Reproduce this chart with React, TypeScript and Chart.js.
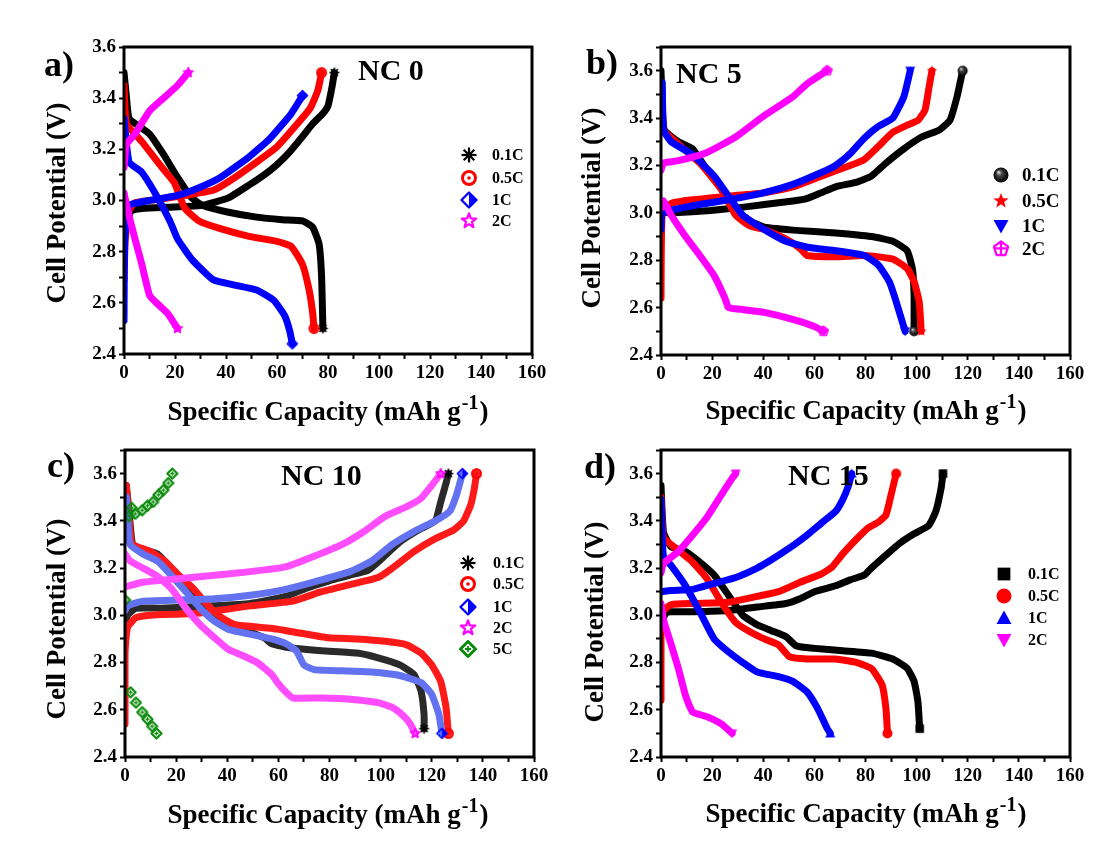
import React, { useEffect, useRef } from 'react';
import { Chart, registerables } from 'chart.js';

Chart.register(...registerables);

type P = [number, number][];

const FONT = '"Liberation Serif", "Times New Roman", Times, serif';

// ---- axes ----
const X_MIN = 0;
const X_MAX = 160;
const X_STEP = 10;
const X_LABEL_EVERY = 20;
const Y_MIN = 2.4;
const Y_STEP = 0.1;
const Y_MAX_A = 3.6;
const Y_MAX_BCD = 3.7;

// ---- text ----
const RATE_LABELS = ['0.1C', '0.5C', '1C', '2C', '5C'];
const SAMPLE_NAMES = ['NC 0', 'NC 5', 'NC 10', 'NC 15'];
const PANEL_LETTERS = ['a)', 'b)', 'c)', 'd)'];
const X_TITLE = 'Specific Capacity (mAh g';
const X_TITLE_SUP = '-1';
const Y_TITLE = 'Cell Potential (V)';

// ---- data: [capacity mAh/g, potential V] ----
// NC 0
const NC0_01C_CHARGE: P = [[0, 2.85], [1, 2.92], [3, 2.96], [8, 2.97], [20, 2.975], [30, 2.98], [36, 2.995], [41, 3.01], [49, 3.06], [55, 3.1], [60, 3.14], [65, 3.19], [70, 3.25], [74, 3.3], [78, 3.34], [80, 3.37], [81.5, 3.44], [82.5, 3.5]];
const NC0_01C_DISCHARGE: P = [[0, 3.5], [0.8, 3.42], [2, 3.32], [6, 3.29], [10, 3.26], [15.5, 3.18], [21, 3.09], [26.6, 3.01], [31, 2.98], [40.5, 2.955], [52, 2.935], [62, 2.925], [70, 2.92], [74, 2.895], [76.5, 2.83], [77.5, 2.7], [78, 2.5]];
const NC0_05C_CHARGE: P = [[0, 2.69], [0.5, 2.85], [2, 2.96], [4, 2.99], [10, 3.0], [24, 3.02], [35, 3.04], [42, 3.08], [52, 3.15], [60, 3.21], [68, 3.3], [73, 3.36], [76, 3.43], [77.5, 3.5]];
const NC0_05C_DISCHARGE: P = [[0, 3.45], [1, 3.3], [7, 3.23], [14, 3.14], [19.7, 3.07], [23.8, 2.97], [29.4, 2.92], [37.8, 2.89], [49, 2.86], [60, 2.84], [65.6, 2.82], [70, 2.75], [72.6, 2.65], [74, 2.56], [74.5, 2.5]];
const NC0_1C_CHARGE: P = [[0, 2.53], [0.3, 2.85], [2, 2.98], [10, 3.0], [21, 3.02], [29.4, 3.05], [37.8, 3.09], [49, 3.17], [57, 3.24], [65.6, 3.34], [70, 3.41]];
const NC0_1C_DISCHARGE: P = [[0, 3.32], [2, 3.15], [7, 3.11], [12.7, 3.02], [18, 2.92], [21, 2.85], [26.6, 2.77], [35, 2.69], [43, 2.67], [52, 2.65], [58.7, 2.61], [63, 2.55], [65, 2.49], [66, 2.44]];
const NC0_2C_CHARGE: P = [[0, 3.13], [1, 3.22], [4.3, 3.26], [10, 3.35], [15.5, 3.4], [21, 3.45], [25.2, 3.5]];
const NC0_2C_DISCHARGE: P = [[0, 3.03], [1.5, 2.96], [4.3, 2.85], [7, 2.75], [10, 2.63], [12.7, 2.6], [17, 2.56], [21, 2.5]];
// NC 5
const NC5_01C_CHARGE: P = [[0, 2.95], [0.5, 3.0], [5, 3.0], [19.4, 3.01], [29, 3.02], [40.4, 3.035], [51.6, 3.05], [57, 3.06], [62.7, 3.085], [68.3, 3.11], [76.7, 3.13], [82.3, 3.155], [88, 3.21], [95, 3.27], [101.9, 3.32], [108.9, 3.35], [113, 3.39], [115.8, 3.49], [118, 3.6]];
const NC5_01C_DISCHARGE: P = [[0, 3.6], [0.5, 3.45], [1.3, 3.35], [6.8, 3.3], [12.4, 3.27], [18, 3.18], [23.6, 3.1], [29.2, 3.015], [34.8, 2.966], [40.4, 2.94], [54.4, 2.925], [68.3, 2.915], [82.3, 2.9], [90.7, 2.88], [96.3, 2.84], [98.4, 2.76], [99, 2.65], [99, 2.5]];
const NC5_05C_CHARGE: P = [[0, 2.64], [0.5, 3.0], [4, 3.04], [12.4, 3.055], [26.4, 3.07], [40.4, 3.085], [51.6, 3.11], [62.7, 3.155], [74, 3.2], [79.5, 3.225], [85, 3.28], [90.7, 3.34], [96.3, 3.37], [100.5, 3.39], [103.3, 3.435], [104.7, 3.52], [106, 3.6]];
const NC5_05C_DISCHARGE: P = [[0, 3.52], [1, 3.35], [6.8, 3.29], [15.2, 3.21], [23.6, 3.1], [29.2, 2.99], [34.8, 2.945], [40.4, 2.93], [48.8, 2.89], [54.4, 2.85], [57.2, 2.82], [68.3, 2.815], [79.5, 2.82], [90.7, 2.805], [96.3, 2.765], [99, 2.71], [101, 2.625], [101.8, 2.5]];
const NC5_1C_CHARGE: P = [[0, 2.93], [0.5, 3.0], [12.4, 3.03], [26.4, 3.055], [40.4, 3.085], [51.6, 3.12], [62.7, 3.17], [68.3, 3.2], [74, 3.25], [79.5, 3.315], [85, 3.365], [90.7, 3.4], [95, 3.49], [97.5, 3.6]];
const NC5_1C_DISCHARGE: P = [[0.5, 3.55], [1, 3.35], [4, 3.3], [12.4, 3.245], [20.8, 3.155], [26.4, 3.07], [32, 2.99], [40.4, 2.93], [48.8, 2.88], [57.2, 2.855], [68.3, 2.84], [79.5, 2.82], [85, 2.78], [89.3, 2.71], [92, 2.625], [95.5, 2.5]];
const NC5_2C_CHARGE: P = [[0, 3.18], [1, 3.21], [6.8, 3.22], [18, 3.255], [29.2, 3.32], [40.4, 3.41], [51.6, 3.49], [57.2, 3.545], [65, 3.6]];
const NC5_2C_DISCHARGE: P = [[0, 3.02], [1, 3.05], [4, 2.99], [9.6, 2.9], [15.2, 2.82], [20.8, 2.735], [25, 2.64], [26.4, 2.6], [29.2, 2.595], [40.4, 2.58], [51.6, 2.55], [60, 2.52], [63.5, 2.5]];
// NC 10
const NC10_01C_CHARGE: P = [[0, 2.95], [1, 3.0], [4.3, 3.03], [14, 3.03], [35, 3.04], [49, 3.05], [62.9, 3.08], [71, 3.115], [79.6, 3.145], [88, 3.17], [95, 3.19], [100.5, 3.24], [107.5, 3.31], [114.6, 3.36], [121.4, 3.4], [123.5, 3.48], [125.6, 3.56], [126.5, 3.6]];
const NC10_01C_DISCHARGE: P = [[0.5, 3.55], [1.5, 3.45], [3, 3.3], [7, 3.28], [12.7, 3.26], [18, 3.2], [23.8, 3.13], [29.4, 3.06], [35, 3.0], [40.5, 2.96], [46, 2.94], [54.5, 2.905], [57.3, 2.88], [62.9, 2.865], [76.8, 2.85], [90.7, 2.84], [99, 2.82], [107.5, 2.79], [113, 2.75], [115.8, 2.68], [117, 2.58], [117, 2.52]];
const NC10_05C_CHARGE: P = [[0, 2.54], [0, 2.84], [1, 2.95], [4.3, 2.99], [10, 3.0], [29.4, 3.01], [49, 3.04], [65.6, 3.06], [76.8, 3.1], [88, 3.13], [99, 3.16], [104.6, 3.2], [113, 3.27], [121.4, 3.325], [128.4, 3.36], [132.5, 3.4], [135.3, 3.47], [136.7, 3.54], [137.5, 3.6]];
const NC10_05C_DISCHARGE: P = [[0.5, 3.55], [2, 3.35], [3, 3.3], [10, 3.27], [15.5, 3.23], [21, 3.17], [26.6, 3.115], [32.2, 3.045], [37.8, 2.99], [43.3, 2.96], [57.3, 2.945], [68.4, 2.925], [79.6, 2.905], [90.7, 2.9], [101.9, 2.89], [110.2, 2.875], [115.8, 2.84], [120, 2.79], [123.5, 2.72], [125.6, 2.61], [126.5, 2.5]];
const NC10_1C_CHARGE: P = [[0, 3.02], [1, 3.04], [7, 3.06], [21, 3.065], [35, 3.07], [49, 3.085], [62.9, 3.11], [76.8, 3.15], [88, 3.185], [96.5, 3.23], [104.6, 3.3], [113, 3.355], [121.4, 3.4], [127, 3.44], [129.7, 3.51], [132, 3.6]];
const NC10_1C_DISCHARGE: P = [[0.5, 3.5], [1, 3.42], [2, 3.3], [7, 3.26], [12.7, 3.23], [18, 3.17], [23.8, 3.1], [29.4, 3.03], [35, 2.975], [40.5, 2.94], [49, 2.92], [57.3, 2.9], [62.9, 2.88], [67, 2.85], [70, 2.79], [74, 2.77], [85, 2.765], [96.5, 2.76], [107.5, 2.745], [115.8, 2.715], [120, 2.665], [122.8, 2.58], [124, 2.5]];
const NC10_2C_CHARGE: P = [[0, 3.12], [7, 3.14], [21, 3.155], [35, 3.17], [49, 3.185], [62.9, 3.205], [74, 3.25], [85, 3.3], [93.5, 3.355], [101.9, 3.42], [110.2, 3.46], [115.8, 3.495], [120, 3.55], [123.5, 3.6]];
const NC10_2C_DISCHARGE: P = [[0, 3.26], [2, 3.23], [7, 3.2], [12.7, 3.165], [18, 3.115], [23.8, 3.03], [29.4, 2.96], [35, 2.905], [40.5, 2.855], [46, 2.83], [51.7, 2.8], [57.3, 2.75], [60, 2.71], [62.9, 2.675], [65.6, 2.65], [76.8, 2.65], [88, 2.645], [99, 2.63], [104.6, 2.61], [108.8, 2.575], [111.6, 2.54], [113.5, 2.5]];
const NC10_5C_CHARGE: P = [[0, 3.065], [1.5, 3.42], [2.6, 3.455], [4, 3.43], [6.7, 3.445], [8.8, 3.464], [11, 3.48], [13.1, 3.51], [15, 3.53], [16.9, 3.56], [18.5, 3.6]];
const NC10_5C_DISCHARGE: P = [[2.2, 2.674], [4.3, 2.63], [6.7, 2.59], [8.8, 2.56], [10.6, 2.53], [12.3, 2.5]];
// NC 15
const NC15_01C_CHARGE: P = [[0, 2.93], [0.5, 2.98], [2, 3.01], [4, 3.015], [12.4, 3.015], [26.4, 3.02], [37.6, 3.035], [48.8, 3.05], [54.4, 3.07], [60, 3.1], [68.3, 3.125], [74, 3.15], [79.5, 3.17], [82.3, 3.2], [88, 3.255], [93.4, 3.305], [99, 3.345], [104.7, 3.38], [107.5, 3.44], [109.6, 3.54], [110.3, 3.6]];
const NC15_01C_DISCHARGE: P = [[0, 3.55], [1, 3.35], [4, 3.29], [9.6, 3.27], [15.2, 3.225], [20.8, 3.17], [26.4, 3.085], [32, 3.0], [37.6, 2.96], [43.2, 2.935], [48.8, 2.91], [53, 2.87], [60, 2.86], [71.1, 2.85], [82.3, 2.84], [90.7, 2.815], [96.3, 2.775], [99, 2.72], [100.5, 2.635], [101.2, 2.52]];
const NC15_05C_CHARGE: P = [[0, 2.64], [0, 2.95], [1, 3.02], [4, 3.045], [12.4, 3.05], [26.4, 3.055], [37.6, 3.08], [46, 3.1], [54.4, 3.14], [62.7, 3.175], [67, 3.205], [71.1, 3.26], [76.7, 3.325], [81, 3.37], [85.1, 3.395], [88, 3.425], [90, 3.51], [92, 3.6]];
const NC15_05C_DISCHARGE: P = [[0, 3.5], [1, 3.33], [6.8, 3.275], [12.4, 3.225], [18, 3.155], [23.6, 3.055], [29.2, 2.97], [34.8, 2.93], [40.4, 2.9], [46, 2.875], [50.2, 2.825], [57.2, 2.815], [68.3, 2.815], [76.7, 2.8], [82.3, 2.775], [86.5, 2.705], [88, 2.605], [88.6, 2.5]];
const NC15_1C_CHARGE: P = [[0, 3.1], [4, 3.105], [12.4, 3.11], [20.8, 3.135], [29.2, 3.16], [37.6, 3.2], [43.2, 3.235], [51.6, 3.295], [57.2, 3.34], [62.7, 3.39], [68.3, 3.44], [71.1, 3.49], [73.2, 3.545], [74.6, 3.6]];
const NC15_1C_DISCHARGE: P = [[0, 3.49], [0.5, 3.33], [1, 3.25], [4, 3.21], [9.6, 3.125], [15.2, 3.015], [20.8, 2.9], [26.4, 2.845], [32, 2.8], [37.6, 2.76], [46, 2.74], [51.6, 2.72], [57.2, 2.675], [61.3, 2.605], [64.8, 2.525], [66.2, 2.5]];
const NC15_2C_CHARGE: P = [[0, 3.18], [1, 3.22], [6.8, 3.27], [12.4, 3.34], [18, 3.415], [23.6, 3.51], [27.8, 3.58], [29.2, 3.6]];
const NC15_2C_DISCHARGE: P = [[0, 3.05], [1, 2.98], [4, 2.875], [6.8, 2.775], [9.6, 2.66], [11, 2.62], [12.4, 2.59], [18, 2.57], [23.6, 2.54], [27.8, 2.5]];

// ---- styling / layout ----
type Series = { label: string; color: string; band?: string; marker: string; curves: P[]; scatter?: boolean };
type Panel = {
  key: string; left: number; top: number; w: number; h: number;
  plot: { l: number; t: number; r: number; b: number }; yMax: number;
  letter: string; letterX: number; letterY: number;
  nc: string; ncX: number; ncY: number;
  yTitleX: number; yTitleY: number; xTitleX: number; xTitleY: number;
  legendMX: number; legendTX: number; legendYs: number[]; legendFont: number;
  series: Series[];
};

const BLACK = '#000000';
const RED = '#ff0000';
const BLUE = '#0000ff';
const MAGENTA = '#ff00ff';
const GREEN = '#0a8a0a';

const PANELS: Panel[] = [
  {
    key: 'a', left: 0, top: 0, w: 554, h: 427, plot: { l: 124, t: 47, r: 532, b: 354 }, yMax: Y_MAX_A,
    letter: PANEL_LETTERS[0], letterX: 44, letterY: 76, nc: SAMPLE_NAMES[0], ncX: 358, ncY: 80,
    yTitleX: 58, yTitleY: 203, xTitleX: 328, xTitleY: 420,
    legendMX: 469, legendTX: 492, legendYs: [155, 178, 200, 221], legendFont: 16,
    series: [
      { label: RATE_LABELS[0], color: BLACK, marker: 'asterisk', curves: [NC0_01C_CHARGE, NC0_01C_DISCHARGE] },
      { label: RATE_LABELS[1], color: RED, marker: 'bullseye', curves: [NC0_05C_CHARGE, NC0_05C_DISCHARGE] },
      { label: RATE_LABELS[2], color: BLUE, marker: 'halfDiamond', curves: [NC0_1C_CHARGE, NC0_1C_DISCHARGE] },
      { label: RATE_LABELS[3], color: MAGENTA, marker: 'starHollow', curves: [NC0_2C_CHARGE, NC0_2C_DISCHARGE] },
    ],
  },
  {
    key: 'b', left: 554, top: 0, w: 554, h: 427, plot: { l: 661, t: 47, r: 1070, b: 355 }, yMax: Y_MAX_BCD,
    letter: PANEL_LETTERS[1], letterX: 586, letterY: 74, nc: SAMPLE_NAMES[1], ncX: 676, ncY: 83,
    yTitleX: 593, yTitleY: 208, xTitleX: 866, xTitleY: 419,
    legendMX: 1001, legendTX: 1022, legendYs: [175, 201, 226, 249], legendFont: 19,
    series: [
      { label: RATE_LABELS[0], color: BLACK, marker: 'sphere', curves: [NC5_01C_CHARGE, NC5_01C_DISCHARGE] },
      { label: RATE_LABELS[1], color: RED, marker: 'starFilled', curves: [NC5_05C_CHARGE, NC5_05C_DISCHARGE] },
      { label: RATE_LABELS[2], color: BLUE, marker: 'triDown', curves: [NC5_1C_CHARGE, NC5_1C_DISCHARGE] },
      { label: RATE_LABELS[3], color: MAGENTA, marker: 'pentaCross', curves: [NC5_2C_CHARGE, NC5_2C_DISCHARGE] },
    ],
  },
  {
    key: 'c', left: 0, top: 427, w: 554, h: 428, plot: { l: 125, t: 450, r: 534, b: 757 }, yMax: Y_MAX_BCD,
    letter: PANEL_LETTERS[2], letterX: 47, letterY: 477, nc: SAMPLE_NAMES[2], ncX: 281, ncY: 485,
    yTitleX: 58, yTitleY: 619, xTitleX: 328, xTitleY: 823,
    legendMX: 468, legendTX: 493, legendYs: [563, 584, 607, 628, 649], legendFont: 16,
    series: [
      { label: RATE_LABELS[0], color: BLACK, band: '#2a2a2a', marker: 'asterisk', curves: [NC10_01C_CHARGE, NC10_01C_DISCHARGE] },
      { label: RATE_LABELS[1], color: RED, band: '#ff1a1a', marker: 'bullseye', curves: [NC10_05C_CHARGE, NC10_05C_DISCHARGE] },
      { label: RATE_LABELS[2], color: BLUE, band: '#6272f0', marker: 'halfDiamond', curves: [NC10_1C_CHARGE, NC10_1C_DISCHARGE] },
      { label: RATE_LABELS[3], color: MAGENTA, band: '#ff4dff', marker: 'starHollow', curves: [NC10_2C_CHARGE, NC10_2C_DISCHARGE] },
      { label: RATE_LABELS[4], color: GREEN, marker: 'diamondCross', curves: [NC10_5C_CHARGE, NC10_5C_DISCHARGE], scatter: true },
    ],
  },
  {
    key: 'd', left: 554, top: 427, w: 554, h: 428, plot: { l: 661, t: 450, r: 1070, b: 757 }, yMax: Y_MAX_BCD,
    letter: PANEL_LETTERS[3], letterX: 584, letterY: 478, nc: SAMPLE_NAMES[3], ncX: 788, ncY: 485,
    yTitleX: 596, yTitleY: 622, xTitleX: 866, xTitleY: 822,
    legendMX: 1004, legendTX: 1028, legendYs: [574, 596, 618, 640], legendFont: 16,
    series: [
      { label: RATE_LABELS[0], color: BLACK, marker: 'square', curves: [NC15_01C_CHARGE, NC15_01C_DISCHARGE] },
      { label: RATE_LABELS[1], color: RED, marker: 'circle', curves: [NC15_05C_CHARGE, NC15_05C_DISCHARGE] },
      { label: RATE_LABELS[2], color: BLUE, marker: 'triUp', curves: [NC15_1C_CHARGE, NC15_1C_DISCHARGE] },
      { label: RATE_LABELS[3], color: MAGENTA, marker: 'triDown', curves: [NC15_2C_CHARGE, NC15_2C_DISCHARGE] },
    ],
  },
];

function starPath(g: CanvasRenderingContext2D, c: number, r: number) {
  g.beginPath();
  for (let i = 0; i < 10; i++) {
    const rr = i % 2 === 0 ? r : r * 0.42;
    const a = -Math.PI / 2 + (i * Math.PI) / 5;
    const x = c + rr * Math.cos(a);
    const y = c + rr * Math.sin(a);
    if (i === 0) g.moveTo(x, y); else g.lineTo(x, y);
  }
  g.closePath();
}

function makeMarker(type: string, color: string, s: number): HTMLCanvasElement {
  const cv = document.createElement('canvas');
  cv.width = s; cv.height = s;
  const g = cv.getContext('2d') as CanvasRenderingContext2D;
  const c = s / 2;
  const r = s / 2 - 1.5;
  g.strokeStyle = color; g.fillStyle = color;
  g.lineWidth = Math.max(1.6, s / 8);
  g.lineJoin = 'round';
  switch (type) {
    case 'asterisk':
      for (const deg of [0, 45, 90, 135]) {
        const a = (deg * Math.PI) / 180;
        g.beginPath();
        g.moveTo(c + r * Math.cos(a), c + r * Math.sin(a));
        g.lineTo(c - r * Math.cos(a), c - r * Math.sin(a));
        g.stroke();
      }
      break;
    case 'bullseye':
      g.lineWidth = s / 6;
      g.beginPath(); g.arc(c, c, r - g.lineWidth / 2 + 0.5, 0, Math.PI * 2); g.stroke();
      g.beginPath(); g.arc(c, c, s / 10, 0, Math.PI * 2); g.fill();
      break;
    case 'halfDiamond':
      g.beginPath(); g.moveTo(c, c - r); g.lineTo(c + r, c); g.lineTo(c, c + r); g.lineTo(c - r, c); g.closePath(); g.stroke();
      g.beginPath(); g.moveTo(c, c - r); g.lineTo(c + r, c); g.lineTo(c, c + r); g.closePath(); g.fill();
      break;
    case 'starHollow':
      starPath(g, c, r); g.stroke();
      break;
    case 'starFilled':
      starPath(g, c, r + 0.5); g.fill();
      break;
    case 'sphere': {
      const gr = g.createRadialGradient(c - r * 0.35, c - r * 0.4, r * 0.05, c, c, r);
      gr.addColorStop(0, '#d8d8d8');
      gr.addColorStop(0.35, '#444');
      gr.addColorStop(1, '#000');
      g.fillStyle = gr;
      g.beginPath(); g.arc(c, c, r, 0, Math.PI * 2); g.fill();
      break;
    }
    case 'triDown':
      g.beginPath(); g.moveTo(c - r, c - r * 0.8); g.lineTo(c + r, c - r * 0.8); g.lineTo(c, c + r); g.closePath(); g.fill();
      break;
    case 'triUp':
      g.beginPath(); g.moveTo(c - r, c + r * 0.8); g.lineTo(c + r, c + r * 0.8); g.lineTo(c, c - r); g.closePath(); g.fill();
      break;
    case 'pentaCross': {
      g.beginPath();
      for (let i = 0; i < 5; i++) {
        const a = -Math.PI / 2 + (i * 2 * Math.PI) / 5;
        const x = c + r * Math.cos(a); const y = c + r * Math.sin(a);
        if (i === 0) g.moveTo(x, y); else g.lineTo(x, y);
      }
      g.closePath(); g.stroke();
      g.beginPath(); g.moveTo(c, c - r); g.lineTo(c, c + r * 0.8);
      g.moveTo(c - r * 0.95, c - r * 0.1); g.lineTo(c + r * 0.95, c - r * 0.1); g.stroke();
      break;
    }
    case 'diamondCross':
      g.lineWidth = s / 6;
      g.beginPath(); g.moveTo(c, c - r); g.lineTo(c + r, c); g.lineTo(c, c + r); g.lineTo(c - r, c); g.closePath(); g.stroke();
      g.lineWidth = s / 10;
      g.beginPath(); g.moveTo(c - r * 0.4, c); g.lineTo(c + r * 0.4, c); g.moveTo(c, c - r * 0.4); g.lineTo(c, c + r * 0.4); g.stroke();
      break;
    case 'square':
      g.fillRect(c - r * 0.85, c - r * 0.85, r * 1.7, r * 1.7);
      break;
    case 'circle':
    default:
      g.beginPath(); g.arc(c, c, r, 0, Math.PI * 2); g.fill();
      break;
  }
  return cv;
}

function decorPlugin(panel: Panel, legendMarkers: HTMLCanvasElement[]) {
  return {
    id: 'decor_' + panel.key,
    afterDraw(chart: any) {
      const ctx: CanvasRenderingContext2D = chart.ctx;
      const { left, top, right, bottom } = chart.chartArea;
      const ox = panel.left;
      const oy = panel.top;
      ctx.save();
      ctx.strokeStyle = '#000';
      ctx.lineWidth = 3;
      ctx.strokeRect(left, top, right - left, bottom - top);
      ctx.fillStyle = '#000';
      ctx.textAlign = 'left';
      ctx.textBaseline = 'alphabetic';
      ctx.font = `bold 36px ${FONT}`;
      ctx.fillText(panel.letter, panel.letterX - ox, panel.letterY - oy);
      ctx.font = `bold 30px ${FONT}`;
      ctx.fillText(panel.nc, panel.ncX - ox, panel.ncY - oy);

      ctx.save();
      ctx.translate(panel.yTitleX - ox, panel.yTitleY - oy);
      ctx.rotate(-Math.PI / 2);
      ctx.font = `bold 27px ${FONT}`;
      ctx.textAlign = 'center';
      ctx.textBaseline = 'middle';
      ctx.fillText(Y_TITLE, 0, 0);
      ctx.restore();

      ctx.font = `bold 27px ${FONT}`;
      const w1 = ctx.measureText(X_TITLE).width;
      const w3 = ctx.measureText(')').width;
      ctx.font = `bold 20px ${FONT}`;
      const w2 = ctx.measureText(X_TITLE_SUP).width;
      let x = panel.xTitleX - ox - (w1 + w2 + w3 + 2) / 2;
      const y = panel.xTitleY - oy;
      ctx.font = `bold 27px ${FONT}`;
      ctx.fillText(X_TITLE, x, y);
      x += w1 + 1;
      ctx.font = `bold 20px ${FONT}`;
      ctx.fillText(X_TITLE_SUP, x, y - 11);
      x += w2 + 1;
      ctx.font = `bold 27px ${FONT}`;
      ctx.fillText(')', x, y);

      panel.series.forEach((s, i) => {
        const yy = panel.legendYs[i] - oy;
        const m = legendMarkers[i];
        ctx.drawImage(m, panel.legendMX - ox - m.width / 2, yy - m.height / 2);
        ctx.font = `bold ${panel.legendFont}px ${FONT}`;
        ctx.textBaseline = 'middle';
        ctx.fillStyle = '#000';
        ctx.fillText(s.label, panel.legendTX - ox, yy + 1);
      });
      ctx.restore();
    },
  };
}

function buildConfig(panel: Panel): any {
  const ptMarkers = panel.series.map((s) => makeMarker(s.marker, s.color, 13));
  const lgMarkers = panel.series.map((s) => makeMarker(s.marker, s.color, 18));
  const datasets: any[] = [];
  panel.series.forEach((s, si) => {
    s.curves.forEach((curve) => {
      const n = curve.length;
      const data = curve.map(([x, y]) => ({ x, y }));
      if (s.scatter) {
        datasets.push({ data, showLine: false, pointStyle: ptMarkers[si], pointRadius: 6, order: -si });
      } else {
        datasets.push({
          data,
          showLine: true,
          borderColor: s.band || s.color,
          backgroundColor: s.color,
          borderWidth: 7,
          borderCapStyle: 'round',
          borderJoinStyle: 'round',
          tension: 0.15,
          pointStyle: ptMarkers[si],
          pointRadius: (ctx: any) => (ctx.dataIndex === n - 1 ? 6 : 0),
          pointHoverRadius: 0,
          order: -si,
        });
      }
    });
  });

  const plotL = panel.plot.l - panel.left;
  const plotR = panel.plot.r - panel.left;
  const plotT = panel.plot.t - panel.top;
  const plotB = panel.plot.b - panel.top;
  const tickFont = { family: FONT, size: 19, weight: 'bold' as const };

  return {
    type: 'scatter',
    data: { datasets },
    options: {
      animation: false,
      responsive: false,
      events: [],
      layout: { padding: { top: plotT, right: panel.w - plotR, left: 0, bottom: 0 } },
      plugins: { legend: { display: false }, tooltip: { enabled: false } },
      scales: {
        x: {
          type: 'linear', min: X_MIN, max: X_MAX,
          afterFit: (sc: any) => { sc.height = panel.h - plotB; },
          ticks: {
            stepSize: X_STEP, autoSkip: false, maxRotation: 0, minRotation: 0, maxTicksLimit: 100,
            color: '#000', font: tickFont, padding: 3,
            callback: (v: number) => (Math.round(v) % X_LABEL_EVERY === 0 ? String(Math.round(v)) : ''),
          },
          grid: { drawOnChartArea: false, drawTicks: true, tickLength: 5, tickColor: '#000', tickWidth: 2 },
          border: { display: false },
        },
        y: {
          type: 'linear', min: Y_MIN, max: panel.yMax,
          afterFit: (sc: any) => { sc.width = plotL; },
          ticks: {
            stepSize: Y_STEP, autoSkip: false, maxTicksLimit: 100,
            color: '#000', font: tickFont, padding: 3,
            callback: (v: number) => (Math.round(v * 10) % 2 === 0 ? Number(v).toFixed(1) : ''),
          },
          grid: { drawOnChartArea: false, drawTicks: true, tickLength: 5, tickColor: '#000', tickWidth: 2 },
          border: { display: false },
        },
      },
    },
    plugins: [decorPlugin(panel, lgMarkers)],
  };
}

function PanelChart({ panel }: { panel: Panel }) {
  const ref = useRef<HTMLCanvasElement | null>(null);
  useEffect(() => {
    if (!ref.current) return;
    const chart = new Chart(ref.current, buildConfig(panel));
    return () => chart.destroy();
  }, [panel]);
  return (
    <canvas
      ref={ref}
      width={panel.w}
      height={panel.h}
      style={{ position: 'absolute', left: panel.left, top: panel.top, width: panel.w, height: panel.h }}
    />
  );
}

export default function App() {
  return (
    <div style={{ position: 'absolute', left: 0, top: 0, width: 1108, height: 855, background: '#fff' }}>
      {PANELS.map((p) => (
        <PanelChart key={p.key} panel={p} />
      ))}
    </div>
  );
}
